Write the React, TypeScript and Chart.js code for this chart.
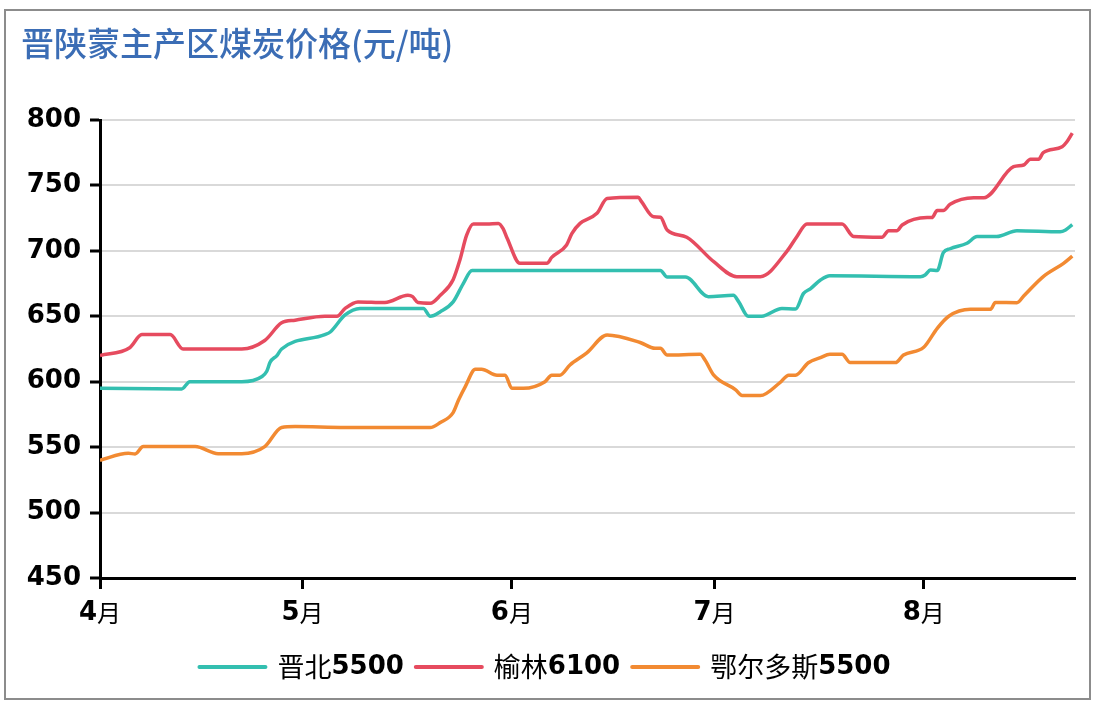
import React, { useEffect, useRef } from "react";
import { Chart, registerables } from "chart.js";

Chart.register(...registerables);

const titleText = "晋陕蒙主产区煤炭价格(元/吨)";
const monthTicks = [0, 30, 61, 91, 122];
const monthLabels = ["4月", "5月", "6月", "7月", "8月"];
const xMax = 144.4;
const yMin = 450;
const yMax = 800;
const yStep = 50;

const seriesNames = ["晋北5500", "榆林6100", "鄂尔多斯5500"];
const seriesColors = ["#33bfb0", "#e64b5f", "#f28a32"];

// day offsets from 1 April, and prices (元/吨)
const jinbeiDays = [0, 12.1, 13.3, 21, 24, 24.7, 25.2, 26.2, 26.9, 33.3, 34.1, 36.3, 38.5, 47.9, 48.9, 50.4, 52.3, 53.8, 55.1, 83, 84, 86.7, 90.1, 93.8, 94.6, 96, 98, 101, 103, 104.2, 105.2, 106.7, 108.1, 121.5, 122.2, 123, 124, 124.9, 125.9, 128.4, 129.9, 132.8, 135.8, 142.2, 143, 144];
const jinbeiPrices = [595, 594.5, 600, 600, 604, 608, 615, 620, 625, 636, 638, 651, 656, 656, 650, 653.5, 661, 675, 685, 685, 680, 680, 665, 666, 661, 650, 650, 656, 655.5, 667.5, 671, 677.7, 681, 680.3, 681.5, 685.4, 685, 698.6, 701.6, 705.8, 710.9, 710.9, 715.4, 714.6, 716, 720];

const yulinDays = [0, 4.4, 6.2, 10.4, 12.3, 21, 24.4, 26.9, 28.9, 33.3, 35.1, 36.3, 38.2, 42.2, 45.6, 46.3, 47.1, 48.9, 50.4, 52.3, 53.3, 54.3, 55.3, 57.3, 59, 59.7, 60.3, 62.2, 66.2, 66.9, 69.1, 69.9, 71.1, 73.6, 75.1, 79.7, 80.2, 82, 83, 84, 86.9, 90.9, 94.3, 97.8, 101.7, 103.2, 104.7, 109.9, 111.6, 115.8, 116.8, 118, 118.8, 122.5, 123.2, 124, 124.9, 125.9, 129.4, 130.9, 135.3, 136.8, 137.8, 139, 139.7, 142.5, 143.2, 144];
const yulinPrices = [620, 626, 636, 636, 625, 625, 631.5, 645, 647, 650, 650, 656, 661, 660.5, 666, 665, 660.5, 660, 666, 678, 693, 712, 720.5, 720.5, 721, 717, 709.6, 690.5, 690.5, 695, 704.5, 713.4, 721, 728.7, 740, 741, 737.6, 726, 725.7, 716, 710.4, 691.7, 680.3, 680.3, 699.4, 710.8, 720.5, 720.5, 711, 710.4, 715.4, 715.4, 719.8, 725.4, 725.4, 730.8, 730.8, 735.6, 740.6, 740.6, 764.3, 765.6, 770, 770, 775, 779.6, 783.4, 790];

const ordosDays = [0, 4.2, 5.2, 6.4, 14.1, 17.5, 21, 24.4, 26.9, 28.9, 36.3, 48.9, 50.4, 52.3, 53.1, 54.1, 55.6, 56.5, 58.8, 60, 61, 62.7, 65.9, 66.9, 68.1, 69.6, 72.1, 75.1, 80, 82.2, 83, 84, 88.9, 89.6, 90.9, 94.1, 95.1, 97.8, 100.7, 102, 103, 104.9, 106.7, 108.1, 109.9, 111.1, 117.8, 119, 122, 124, 125.7, 128.9, 131.9, 132.6, 135.8, 136.8, 139.7, 142.7, 144];
const ordosPrices = [540, 545.3, 544.8, 550.4, 550.4, 545, 545, 550.4, 565, 565.7, 565, 565, 568.8, 576.4, 586, 596.3, 609.5, 609.5, 605, 605, 595, 595, 600, 605, 605, 612.8, 622, 635.7, 630, 625.5, 625.5, 620.4, 620.9, 616.6, 605, 594, 589.4, 589.4, 599.3, 605, 605, 614.5, 618.4, 621, 621, 614.6, 614.6, 620.4, 626.3, 640.8, 650, 655.3, 655.3, 660.6, 660.4, 665.5, 680.3, 690.5, 696];

const allDays = [jinbeiDays, yulinDays, ordosDays];
const allPrices = [jinbeiPrices, yulinPrices, ordosPrices];

const DIGIT_FONT = "bold 26px 'DejaVu Sans'";
const CJK_FONT = "'Noto Sans CJK SC'";

function splitLabel(s: string): [string, string] {
  const m = s.match(/^(\D*)(\d*)(.*)$/);
  if (!m) return [s, ""];
  return [m[1], m[2] + m[3]];
}

const overlayPlugin = {
  id: "overlay",
  afterDraw(chart: any) {
    const ctx = chart.ctx as CanvasRenderingContext2D;
    ctx.save();
    // outer frame
    ctx.strokeStyle = "#8c8c8c";
    ctx.lineWidth = 2;
    ctx.strokeRect(5, 10, 1085, 689);

    // title
    ctx.fillStyle = "#3b6db5";
    ctx.font = "500 33px " + CJK_FONT;
    ctx.textAlign = "left";
    ctx.textBaseline = "middle";
    ctx.fillText(titleText, 21, 43);

    // x labels (bold digit + regular 月)
    const xs = chart.scales.x;
    ctx.fillStyle = "#000";
    monthTicks.forEach((v, i) => {
      const px = xs.getPixelForValue(v);
      const lbl = monthLabels[i];
      const num = lbl.replace(/\D/g, "");
      const rest = lbl.replace(/\d/g, "");
      ctx.font = DIGIT_FONT;
      const w1 = ctx.measureText(num).width;
      ctx.font = "24px " + CJK_FONT;
      const w2 = ctx.measureText(rest).width;
      const x0 = px - (w1 + w2) / 2;
      ctx.font = DIGIT_FONT;
      ctx.fillText(num, x0, 613);
      ctx.font = "24px " + CJK_FONT;
      ctx.fillText(rest, x0 + w1, 613);
    });

    // legend
    const lineLen = 70;
    const gap1 = 10;
    const gap2 = 10;
    const items = seriesNames.map((n) => {
      const [a, b] = splitLabel(n);
      ctx.font = "27px " + CJK_FONT;
      const wa = ctx.measureText(a).width;
      ctx.font = DIGIT_FONT;
      const wb = ctx.measureText(b).width;
      return { a, b, wa, wb };
    });
    let total = 0;
    items.forEach((it, i) => {
      total += lineLen + gap1 + it.wa + it.wb + (i < items.length - 1 ? gap2 : 0);
    });
    let x = 544 - total / 2;
    const ly = 667;
    items.forEach((it, i) => {
      ctx.strokeStyle = seriesColors[i];
      ctx.lineWidth = 4;
      ctx.lineCap = "round";
      ctx.beginPath();
      ctx.moveTo(x + 2, ly);
      ctx.lineTo(x + lineLen - 2, ly);
      ctx.stroke();
      x += lineLen + gap1;
      ctx.fillStyle = "#000";
      ctx.font = "27px " + CJK_FONT;
      ctx.fillText(it.a, x, ly);
      x += it.wa;
      ctx.font = DIGIT_FONT;
      ctx.fillText(it.b, x, ly);
      x += it.wb + gap2;
    });
    ctx.restore();
  },
};

export default function App() {
  const ref = useRef<HTMLCanvasElement | null>(null);

  useEffect(() => {
    if (!ref.current) return;
    const datasets = seriesNames.map((name, si) => ({
      label: name,
      data: allDays[si].map((d, i) => ({ x: d, y: allPrices[si][i] })),
      borderColor: seriesColors[si],
      backgroundColor: seriesColors[si],
      borderWidth: 3.5,
      pointRadius: 0,
      pointHoverRadius: 0,
      cubicInterpolationMode: "monotone" as const,
      fill: false,
    }));

    const chart = new Chart(ref.current, {
      type: "line",
      data: { datasets },
      plugins: [overlayPlugin],
      options: {
        animation: false,
        responsive: false,
        maintainAspectRatio: false,
        layout: { padding: { left: 0, top: 120, right: 21, bottom: 0 } },
        plugins: {
          legend: { display: false },
          title: { display: false },
          tooltip: { enabled: false },
        },
        scales: {
          x: {
            type: "linear",
            min: 0,
            max: xMax,
            afterBuildTicks: (scale: any) => {
              scale.ticks = monthTicks.map((v) => ({ value: v }));
            },
            afterFit: (scale: any) => {
              scale.height = 128;
            },
            ticks: {
              color: "rgba(0,0,0,0)",
              font: { size: 24 },
              maxRotation: 0,
              autoSkip: false,
              callback: (v: any) => {
                const i = monthTicks.indexOf(Number(v));
                return i >= 0 ? monthLabels[i] : "";
              },
            },
            grid: {
              display: true,
              drawOnChartArea: false,
              drawTicks: true,
              tickLength: 11,
              tickColor: "#000",
              tickWidth: 3,
            },
            border: { display: true, color: "#000", width: 3 },
          },
          y: {
            min: yMin,
            max: yMax,
            afterFit: (scale: any) => {
              scale.width = 100;
            },
            ticks: {
              stepSize: yStep,
              color: "#000",
              padding: 9,
              font: { family: "'DejaVu Sans'", size: 26, weight: "bold" },
            },
            grid: {
              color: "#d9d9d9",
              lineWidth: 2,
              drawTicks: true,
              tickLength: 10,
              tickColor: "#000",
              tickWidth: 3,
            },
            border: { display: true, color: "#000", width: 3 },
          },
        },
      },
    });
    return () => chart.destroy();
  }, []);

  return (
    <div
      style={{
        position: "fixed",
        left: 0,
        top: 0,
        width: 1096,
        height: 706,
        background: "#fff",
      }}
    >
      <canvas ref={ref} width={1096} height={706} style={{ width: 1096, height: 706, display: "block" }} />
    </div>
  );
}
